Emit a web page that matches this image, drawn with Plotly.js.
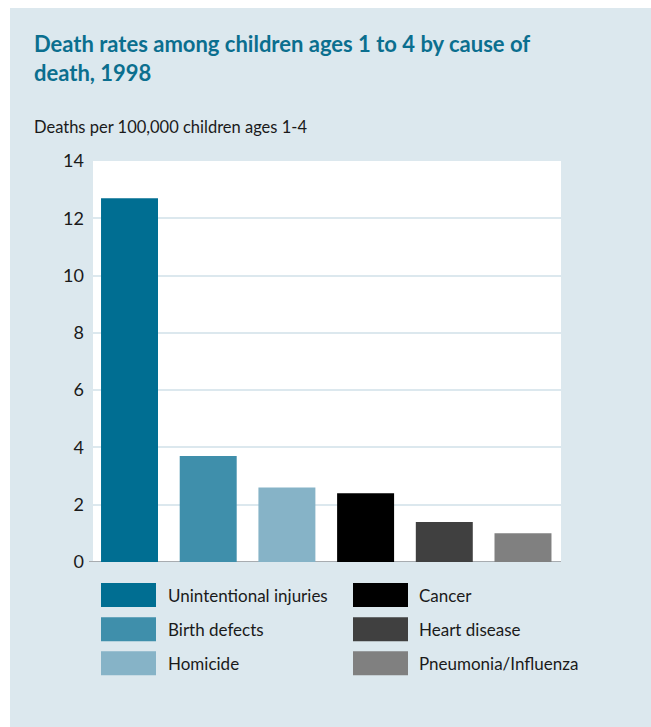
<!DOCTYPE html>
<html>
<head>
<meta charset="utf-8">
<script src="https://cdn.plot.ly/plotly-3.0.1.min.js"></script>
<style>
  html, body { margin: 0; padding: 0; background: #ffffff; }
  #chart { position: absolute; left: 10px; top: 8px; width: 641px; height: 719px; }
</style>
</head>
<body>
<div id="chart"></div>
<script>
// ---- data ----
const categories = ["Unintentional injuries", "Birth defects", "Homicide", "Cancer", "Heart disease", "Pneumonia/Influenza"];
const deathRates = [12.7, 3.7, 2.6, 2.4, 1.4, 1.0];
const barColors = ["#006e92", "#3f8fab", "#86b3c7", "#000000", "#404040", "#808080"];
const yTicks = [0, 2, 4, 6, 8, 10, 12, 14];
const titleText = "Death rates among children ages 1 to 4 by cause of<br>death, 1998";
const yTitleText = "Deaths per 100,000 children ages 1-4";

// ---- geometry helpers (page px -> paper) ----
const PL = 93, PR = 561, PT = 161, PB = 561;
const px = x => (x - PL) / (PR - PL);
const py = y => (PB - y) / (PB - PT);

const FONT = "Lato, 'Open Sans', sans-serif";
const TXT = "#1a1a1a";

const shapes = [
  { type: "line", xref: "paper", yref: "y", x0: px(89), x1: 1, y0: 0, y1: 0,
    line: { color: "#a8acb0", width: 2 }, layer: "below" }
];
const annotations = [
  { text: yTitleText, xref: "paper", yref: "paper", x: px(32), y: py(127),
    xanchor: "left", yanchor: "middle", showarrow: false,
    font: { family: FONT, size: 16.5, color: TXT } }
];

categories.forEach((c, i) => {
  const col = Math.floor(i / 3), row = i % 3;
  const cy = 594 + row * 34;
  const sx = 101 + col * 252;
  shapes.push({ type: "rect", xref: "paper", yref: "paper",
    x0: px(sx), x1: px(sx + 55), y0: py(cy + 12), y1: py(cy - 12),
    fillcolor: barColors[i], line: { width: 0 } });
  annotations.push({ text: c, xref: "paper", yref: "paper",
    x: px(166 + col * 251), y: py(cy), xanchor: "left", yanchor: "middle",
    showarrow: false, font: { family: FONT, size: 17, color: TXT } });
});

const trace = {
  type: "bar",
  x: categories,
  y: deathRates,
  marker: { color: barColors, line: { width: 0 } },
  hoverinfo: "x+y",
  showlegend: false
};

const layout = {
  width: 641, height: 719,
  margin: { l: PL - 10, r: 651 - PR, t: PT - 8, b: 727 - PB - 1 },
  paper_bgcolor: "#dce8ee",
  plot_bgcolor: "#ffffff",
  bargap: 0.276,
  showlegend: false,
  title: {
    text: titleText,
    x: 24 / 641, xanchor: "left", xref: "container",
    y: 1 - 44 / 719, yanchor: "top", yref: "container",
    font: { family: FONT, size: 22, color: "#0b6f8f", weight: "bold", lineposition: "none" }
  },
  xaxis: {
    type: "category", range: [-0.464, 5.483],
    showticklabels: false, showgrid: false, zeroline: false, showline: false,
    ticks: "", fixedrange: true
  },
  yaxis: {
    range: [0, 14], tickvals: yTicks, ticktext: yTicks.map(String),
    showgrid: true, gridcolor: "#dce8ee", gridwidth: 2,
    zeroline: false, showline: false, ticks: "",
    ticklabelstandoff: 8,
    tickfont: { family: FONT, size: 18, color: TXT }, fixedrange: true
  },
  shapes: shapes,
  annotations: annotations
};

Plotly.newPlot("chart", [trace], layout, { displayModeBar: false, staticPlot: true });
</script>
</body>
</html>
